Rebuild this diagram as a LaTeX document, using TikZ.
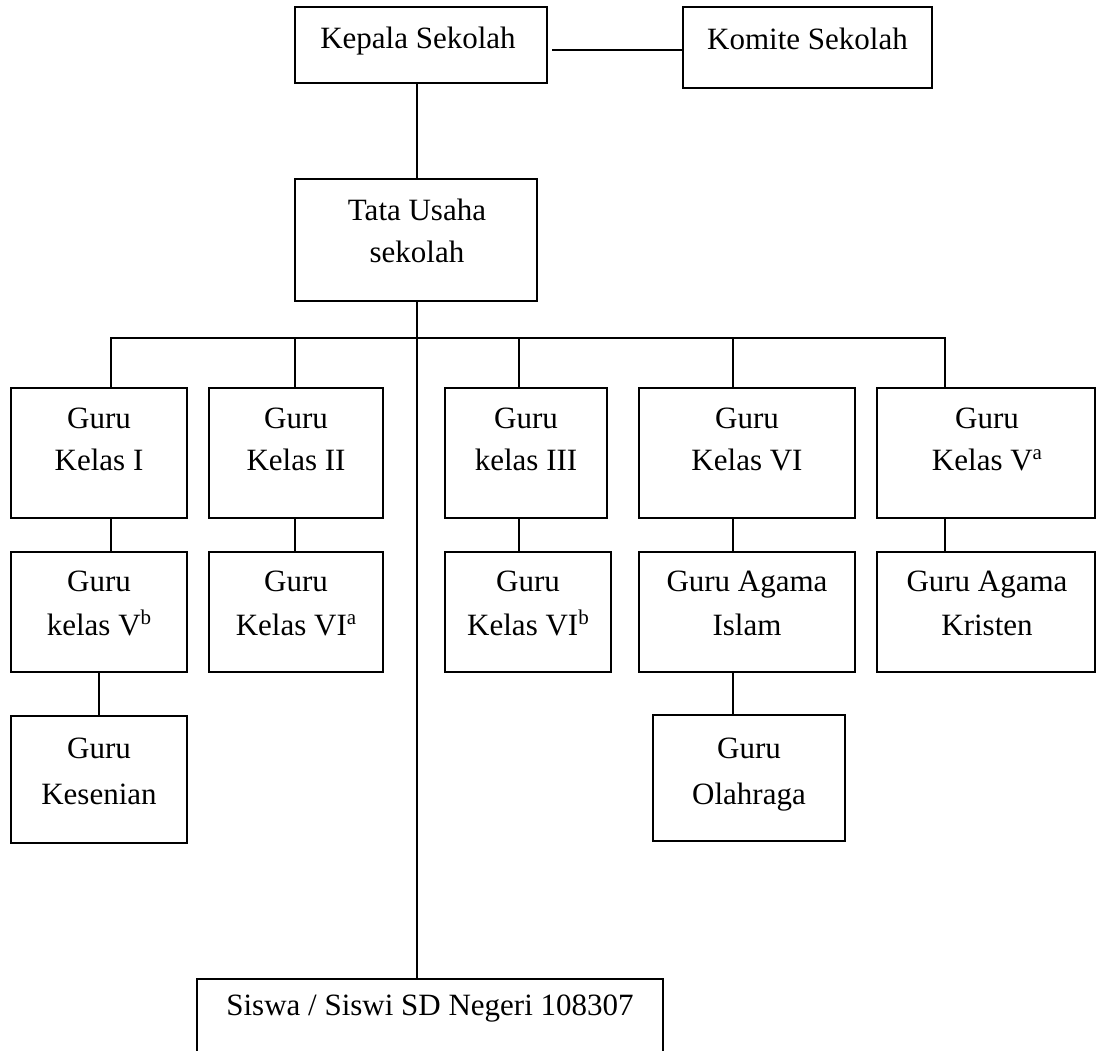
\documentclass[tikz,border=0pt]{standalone}
\usepackage{fontspec}
\setmainfont{Liberation Serif}
\tikzset{
  box/.style={draw, line width=1.8pt, rectangle, inner sep=0pt, outer sep=0pt},
  txt/.style={inner sep=0pt, anchor=base, font=\fontsize{31}{40}\selectfont},
  conn/.style={line width=1.8pt, line join=miter},
}
\newcommand{\orgbox}[5]{%
  \pgfmathsetmacro{\bw}{#4-#2}\pgfmathsetmacro{\bh}{#5-#3}%
  \node[box, minimum width=\bw pt, minimum height=\bh pt] (#1) at ({(#2+#4)/2},{(#3+#5)/2}) {};}
\newcommand{\twolines}[6]{%
  \node[txt] (#1a) at (#2,#3) {#5};
  \node[txt] (#1b) at (#2,#4) {#6};}
\newcommand{\supl}[1]{\raisebox{11pt}{\fontsize{21}{21}\selectfont #1}}
\begin{document}
\begin{tikzpicture}[x=1pt,y=-1pt]
\clip (0,0) rectangle (1097,1050);
% boxes
\orgbox{kepala}{295}{7}{547}{83}
\orgbox{komite}{683}{7}{932}{88}
\orgbox{tata}{295}{179}{537}{301}
\orgbox{k1}{11}{388}{187}{518}
\orgbox{k2}{209}{388}{383}{518}
\orgbox{k3}{445}{388}{607}{518}
\orgbox{k6}{639}{388}{855}{518}
\orgbox{k5a}{877}{388}{1095}{518}
\orgbox{k5b}{11}{552}{187}{672}
\orgbox{k6a}{209}{552}{383}{672}
\orgbox{k6b}{445}{552}{611}{672}
\orgbox{islam}{639}{552}{855}{672}
\orgbox{kristen}{877}{552}{1095}{672}
\orgbox{seni}{11}{716}{187}{843}
\orgbox{olahraga}{653}{715}{845}{841}
\orgbox{siswa}{197}{979}{663}{1110}
% texts
\node[txt] (kepalaT) at (418,48) {Kepala Sekolah};
\node[txt] (komiteT) at (807.5,49) {Komite Sekolah};
\twolines{tataT}{417}{220}{262}{Tata Usaha}{sekolah}
\twolines{k1T}{99}{428}{470}{Guru}{Kelas I}
\twolines{k2T}{296}{428}{470}{Guru}{Kelas II}
\twolines{k3T}{526}{428}{470}{Guru}{kelas III}
\twolines{k6T}{747}{428}{470}{Guru}{Kelas VI}
\twolines{k5aT}{987}{428}{470}{Guru}{Kelas V\supl{a}}
\twolines{k5bT}{99}{591}{635}{Guru}{kelas V\supl{b}}
\twolines{k6aT}{296}{591}{635}{Guru}{Kelas VI\supl{a}}
\twolines{k6bT}{528}{591}{635}{Guru}{Kelas VI\supl{b}}
\twolines{islamT}{747}{591}{635}{Guru Agama}{Islam}
\twolines{kristenT}{987}{591}{635}{Guru Agama}{Kristen}
\twolines{seniT}{99}{758}{804}{Guru}{Kesenian}
\twolines{olahT}{749}{758}{804}{Guru}{Olahraga}
\node[txt] (siswaT) at (430,1015) {Siswa / Siswi SD Negeri 108307};
% connectors
\coordinate (kk) at (552,50);
\draw[conn] (kk) -- (kk -| komite.west);
\coordinate (v0) at (417,0);
\draw[conn] (kepala.south -| v0) -- (tata.north -| v0);
\draw[conn] (tata.south -| v0) -- (siswa.north -| v0);
\coordinate (d1) at (111,338);
\coordinate (d2) at (295,338);
\coordinate (d3) at (519,338);
\coordinate (d4) at (733,338);
\coordinate (d5) at (945,338);
\draw[conn] (d1 |- k1.north) -- (d1) -- (d5) -- (d5 |- k5a.north);
\foreach \d/\b in {d2/k2, d3/k3, d4/k6} \draw[conn] (\d) -- (\d |- \b.north);
\foreach \d/\a/\b in {d1/k1/k5b, d2/k2/k6a, d3/k3/k6b, d4/k6/islam, d5/k5a/kristen}
  \draw[conn] (\a.south -| \d) -- (\b.north -| \d);
\coordinate (e1) at (99,0);
\coordinate (e2) at (733,0);
\draw[conn] (k5b.south -| e1) -- (seni.north -| e1);
\draw[conn] (islam.south -| e2) -- (olahraga.north -| e2);
\end{tikzpicture}
\end{document}
